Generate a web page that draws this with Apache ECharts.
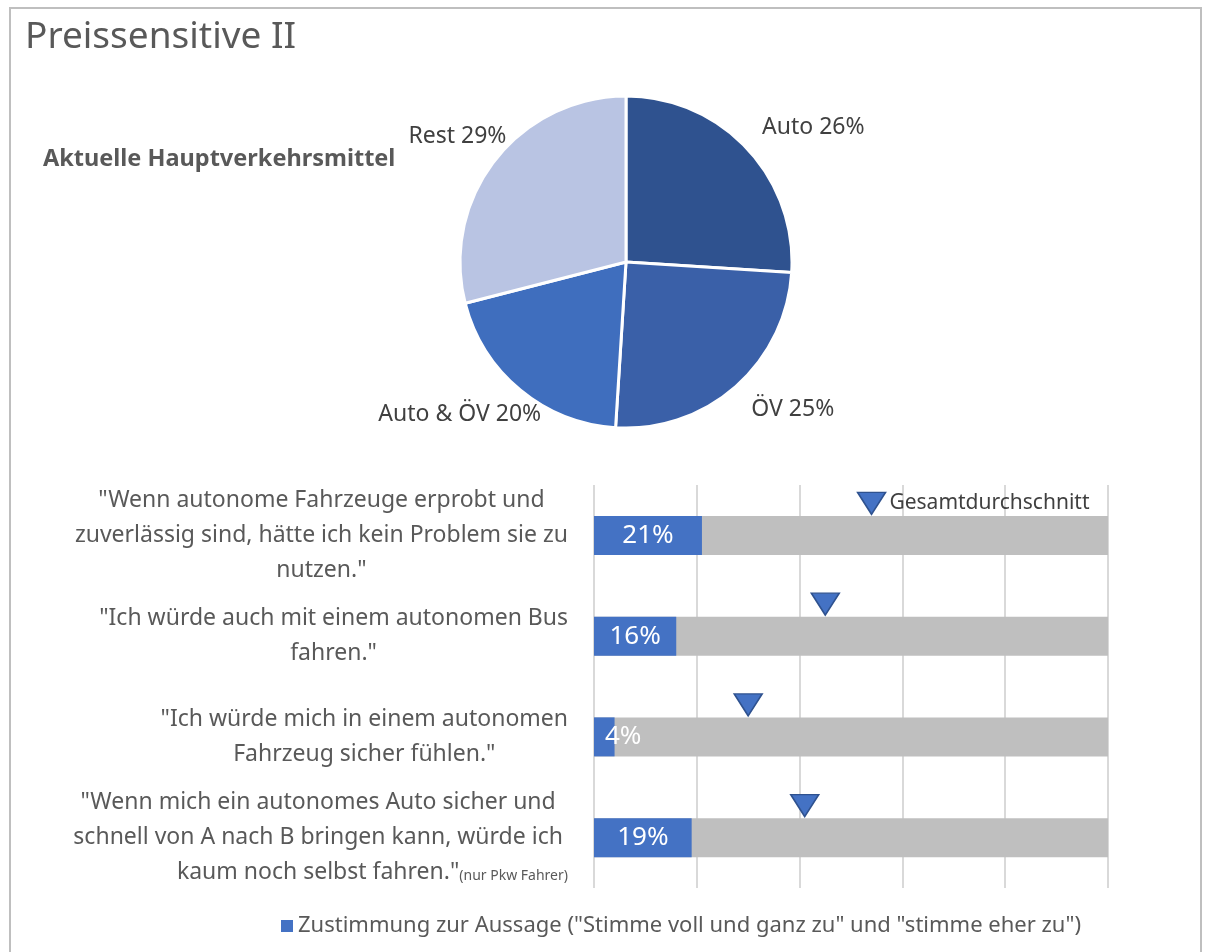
<!DOCTYPE html>
<html>
<head>
<meta charset="utf-8">
<title>Preissensitive II</title>
<script src="https://cdn.jsdelivr.net/npm/echarts@6/dist/echarts.min.js"></script>
<style>
  html, body { margin: 0; padding: 0; background: #fff; }
  #chart { width: 1205px; height: 952px; }
</style>
</head>
<body>
<div id="chart"></div>
<script>
// Hauptverkehrsmittel (Kreis)
const pieNames = ['Auto', 'ÖV', 'Auto & ÖV', 'Rest']
const pieValues = [26, 25, 20, 29]
const pieColors = ['#2F528F', '#3A60A8', '#3F6EBE', '#B9C4E3']

// Aussagen (Balken)
const statements = [
  ['"Wenn autonome Fahrzeuge erprobt und', 'zuverlässig sind, hätte ich kein Problem sie zu', 'nutzen."'],
  ['"Ich würde auch mit einem autonomen Bus', 'fahren."'],
  ['"Ich würde mich in einem autonomen', 'Fahrzeug sicher fühlen."'],
  ['"Wenn mich ein autonomes Auto sicher und', 'schnell von A nach B bringen kann, würde ich', 'kaum noch selbst fahren."']
]
const statementNotes = ['', '', '', '(nur Pkw Fahrer)']
const agreeValues = [21, 16, 4, 19]
const avgValues = [54, 45, 30, 41]
const fullValues = [100, 100, 100, 100]

const textColor = '#595959'
const font = 'Noto Sans'

const chart = echarts.init(document.getElementById('chart'))

// Label shifts so that the pie labels sit where Excel put them
const pieLabelShift = [[-6, -6], [-4, 6], [40, 8], [34, -10]]

chart.setOption({
  textStyle: { fontFamily: font },
  graphic: [{
    type: 'rect',
    silent: true,
    shape: { x: 10, y: 8, width: 1191, height: 980 },
    style: { fill: 'none', stroke: '#BFBFBF', lineWidth: 2 }
  }],
  title: [{
    text: 'Preissensitive II',
    left: 20,
    top: 14,
    textStyle: { fontFamily: font, fontSize: 37, fontWeight: 'normal', color: textColor }
  }, {
    text: 'Aktuelle Hauptverkehrsmittel',
    left: 38,
    top: 142,
    textStyle: { fontFamily: font, fontSize: 23.5, fontWeight: 'bold', color: textColor }
  }],
  legend: {
    data: ['Zustimmung zur Aussage ("Stimme voll und ganz zu" und "stimme eher zu")'],
    left: 276,
    top: 910,
    icon: 'rect',
    itemWidth: 12,
    itemHeight: 12,
    itemGap: 6,
    textStyle: { fontFamily: font, fontSize: 22, color: textColor }
  },
  grid: { left: 594, right: 97, top: 485, bottom: 64 },
  xAxis: {
    type: 'value',
    min: 0,
    max: 100,
    interval: 20,
    axisLabel: { show: false },
    axisLine: { show: false },
    axisTick: { show: false },
    splitLine: { lineStyle: { color: '#D9D9D9', width: 2 } }
  },
  yAxis: {
    type: 'category',
    inverse: true,
    data: statements.map((_, i) => i),
    axisLine: { show: false },
    axisTick: { show: false },
    axisLabel: {
      interval: 0,
      margin: 26,
      align: 'right',
      formatter: (v) => {
        const i = Number(v)
        const lines = statements[i].map(l => '{c|' + l + '}')
        if (statementNotes[i]) {
          // invisible copy in front keeps the main text centred, note hangs off the right
          const last = lines.length - 1
          lines[last] = '{h|' + statementNotes[i] + '}' + lines[last] + '{s|' + statementNotes[i] + '}'
        }
        return lines.join('\n')
      },
      rich: {
        c: { fontFamily: font, fontSize: 23, lineHeight: 35, color: textColor, align: 'center' },
        s: { fontFamily: font, fontSize: 14, lineHeight: 35, color: textColor, align: 'center', padding: [6, 0, 0, 0] },
        h: { fontFamily: font, fontSize: 14, lineHeight: 35, color: 'rgba(0,0,0,0)', align: 'center', padding: [6, 0, 0, 0] }
      }
    }
  },
  series: [{
    type: 'pie',
    name: 'Hauptverkehrsmittel',
    center: [626, 262],
    radius: 166,
    startAngle: 90,
    clockwise: true,
    animation: false,
    data: pieNames.map((n, i) => ({ name: n, value: pieValues[i], itemStyle: { color: pieColors[i] } })),
    itemStyle: { borderColor: '#fff', borderWidth: 3 },
    label: {
      formatter: (p) => p.name + ' ' + p.value + '%',
      fontFamily: font,
      fontSize: 23,
      color: '#404040'
    },
    labelLine: { show: false, length: 22, length2: 0 },
    labelLayout: (p) => ({ dx: pieLabelShift[p.dataIndex][0], dy: pieLabelShift[p.dataIndex][1] })
  }, {
    type: 'bar',
    name: 'Basis',
    data: fullValues,
    barWidth: 39,
    barGap: '-100%',
    silent: true,
    animation: false,
    itemStyle: { color: '#BFBFBF' },
    z: 1
  }, {
    type: 'bar',
    name: 'Zustimmung zur Aussage ("Stimme voll und ganz zu" und "stimme eher zu")',
    data: agreeValues.map(v => ({
      value: v,
      label: v < 8 ? { position: 'insideLeft', distance: 11 } : {}
    })),
    barWidth: 39,
    barGap: '-100%',
    animation: false,
    itemStyle: { color: '#4472C4' },
    label: {
      show: true,
      position: 'inside',
      formatter: '{c}%',
      fontFamily: font,
      fontSize: 26,
      color: '#fff'
    },
    z: 2
  }, {
    type: 'scatter',
    name: 'Gesamtdurchschnitt',
    data: avgValues.map((v, i) => ({
      value: [v, i],
      label: i === 0 ? {
        show: true,
        position: 'right',
        distance: 3,
        formatter: 'Gesamtdurchschnitt',
        fontFamily: font,
        fontSize: 21,
        color: '#404040'
      } : { show: false }
    })),
    symbol: 'triangle',
    symbolRotate: 180,
    symbolSize: [28, 22],
    symbolOffset: [0, -32],
    animation: false,
    itemStyle: { color: '#4472C4', borderColor: '#2F528F', borderWidth: 1.5, opacity: 1 },
    z: 3
  }]
})
</script>
</body>
</html>
